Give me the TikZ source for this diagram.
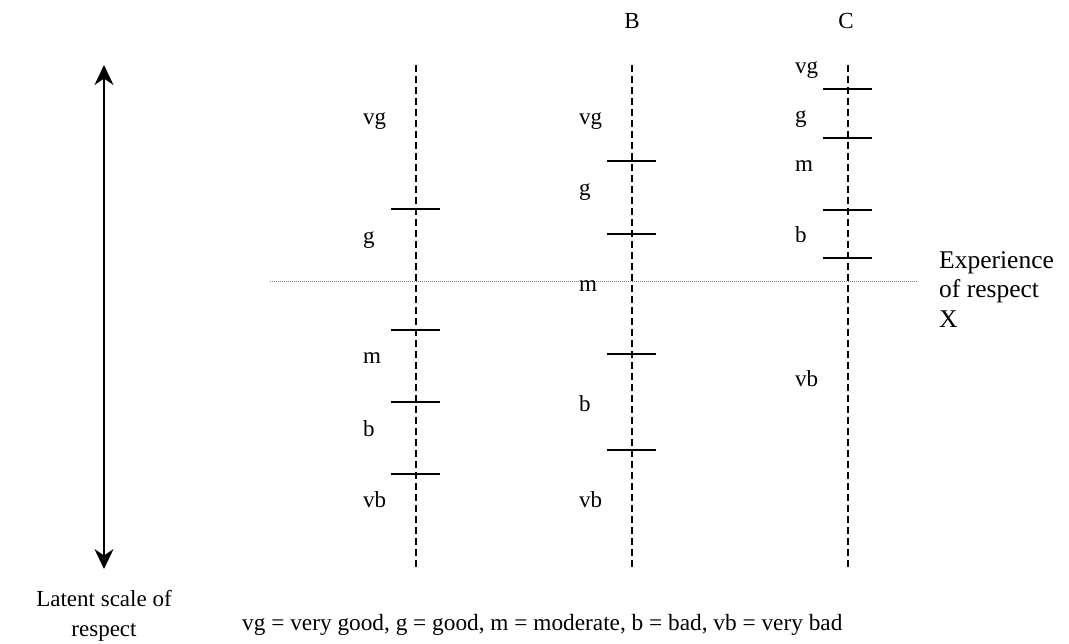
\documentclass[tikz,border=0pt]{standalone}
\usepackage{fontspec}
\setmainfont{Liberation Serif}
\usetikzlibrary{arrows.meta}
\begin{document}
\begin{tikzpicture}[x=1pt,y=-1pt,
  axisline/.style={line width=1.5pt,dash pattern=on 7pt off 4pt},
  tickline/.style={line width=1.5pt},
  lbl/.style={anchor=base west,inner sep=0pt,font=\fontsize{23}{27}\selectfont},
  hdr/.style={anchor=base,inner sep=0pt,font=\fontsize{23}{27}\selectfont},
  txt/.style={inner sep=0pt,font=\fontsize{23}{30}\selectfont},
  refline/.style={gray,line width=0.8pt,dash pattern=on 1pt off 1pt}]
\useasboundingbox (0,0) rectangle (1069,644);

% latent scale arrow
\coordinate (lt) at (104,65);
\coordinate (lb) at (104,569);
\draw[line width=1.5pt,{Stealth[length=20pt,width=19pt]}-{Stealth[length=20pt,width=19pt]}] (lt) -- (lb);
\node[txt,anchor=north,align=center] (latent) at (104,590) {Latent scale of\\respect};

% reference line X
\coordinate (xl) at (270,281.5);
\coordinate (xr) at (918,281.5);
\draw[refline] (xl) -- (xr);
\node[txt,anchor=north west,align=left,font=\fontsize{25.5}{29.5}\selectfont] (exp) at (939,251) {Experience\\of respect\\X};

% axes
\coordinate (at) at (416,65); \coordinate (ab) at (416,570);
\coordinate (bt) at (632,65); \coordinate (bb) at (632,570);
\coordinate (ct) at (848,65); \coordinate (cb) at (848,570);
\draw[axisline] (at) -- (ab);
\draw[axisline] (bt) -- (bb);
\draw[axisline] (ct) -- (cb);

% headers
\node[hdr] (hB) at (632,29) {B};
\node[hdr] (hC) at (846,29) {C};

% ticks column A
\foreach \y in {209,330,402,474} \draw[tickline] (391,\y) -- (440,\y);
% ticks column B
\foreach \y in {161,234,354,450} \draw[tickline] (607,\y) -- (656,\y);
% ticks column C
\foreach \y in {89,138,210,258} \draw[tickline] (823,\y) -- (872,\y);

% labels column A
\node[lbl] (avg) at (363,125) {vg};
\node[lbl] (ag) at (363,244) {g};
\node[lbl] (am) at (363,364) {m};
\node[lbl] (ab2) at (363,436) {b};
\node[lbl] (avb) at (363,507) {vb};

% labels column B
\node[lbl] (bvg) at (579,125) {vg};
\node[lbl] (bg) at (579,196) {g};
\node[lbl] (bm) at (579,292) {m};
\node[lbl] (bb2) at (579,412) {b};
\node[lbl] (bvb) at (579,507) {vb};

% labels column C
\node[lbl] (cvg) at (795,74) {vg};
\node[lbl] (cg) at (795,123) {g};
\node[lbl] (cm) at (795,172) {m};
\node[lbl] (cb2) at (795,243) {b};
\node[lbl] (cvb) at (795,387) {vb};

% legend
\node[lbl,font=\fontsize{23.3}{27}\selectfont] (legend) at (242,630) {vg = very good, g = good, m = moderate, b = bad, vb = very bad};
\end{tikzpicture}
\end{document}
